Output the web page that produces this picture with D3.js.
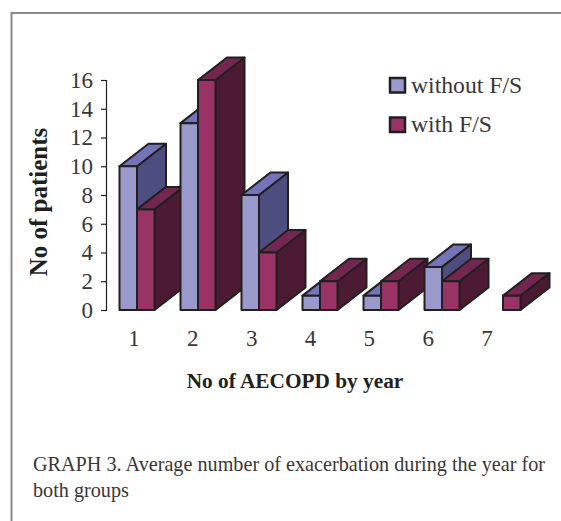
<!DOCTYPE html>
<html>
<head>
<meta charset="utf-8">
<script src="https://cdn.jsdelivr.net/npm/d3@7"></script>
<style>
    html, body { margin: 0; padding: 0; background: #fff; }
    svg { display: block; }
    text { font-family: "Liberation Serif", serif; fill: #3a3637; }
    .axisTitle { font-weight: bold; fill: #231f20; }
</style>
</head>
<body>
<div id="chart"></div>
<script>
// data
const categories = ['1', '2', '3', '4', '5', '6', '7'];
const seriesNames = ['without F/S', 'with F/S'];
const withoutFS = [10, 13, 8, 1, 1, 3, 0];
const withFS = [7, 16, 4, 2, 2, 2, 1];
const yTicks = [0, 2, 4, 6, 8, 10, 12, 14, 16];
const captionLines = [
    'GRAPH 3. Average number of exacerbation during the year for',
    'both groups'
];

const width = 561, height = 521;
const depthX = 29, depthY = 22.5; // fake 3d offset
const outline = '#231f20';
const faces = [
    { front: '#9999cc', top: '#7474b8', side: '#4d4d80' },
    { front: '#993366', top: '#73264f', side: '#4d1a33' }
];

const svg = d3.select('#chart').append('svg')
    .attr('width', width)
    .attr('height', height);

// page frame
svg.append('path')
    .attr('d', d3.line()([[11.5, height], [11.5, 13], [width, 13]]))
    .attr('fill', 'none')
    .attr('stroke', '#8a8a8a')
    .attr('stroke-width', 2);

// scales
const x = d3.scaleBand().domain(categories).range([119.5, 520.5]).paddingInner(26 / 61);
const xSeries = d3.scaleBand().domain(seriesNames).range([0, x.bandwidth()]);
const xLabels = d3.scalePoint().domain(categories).range([134, 487]);
const y = d3.scaleLinear().domain([0, 16]).range([310, 80]);

// y axis
const yAxis = svg.append('g')
    .attr('transform', 'translate(106,0)')
    .call(d3.axisLeft(y).tickValues(yTicks).tickSize(5).tickPadding(8).tickFormat(d3.format('d')));
yAxis.selectAll('path, line').attr('stroke', outline).attr('stroke-width', 1.2);
yAxis.selectAll('text').attr('font-size', 23).style('font-family', '"Liberation Serif", serif').attr('fill', '#3a3637');

// x labels, they do not line up with the bars in the original
svg.append('g').selectAll('text')
    .data(categories)
    .join('text')
    .attr('x', d => xLabels(d))
    .attr('y', 346)
    .attr('text-anchor', 'middle')
    .attr('font-size', 23)
    .text(d => d);

// bars, left to right so later ones cover the earlier sides
const rows = categories.flatMap((c, i) => [
    { cat: c, name: seriesNames[0], value: withoutFS[i], face: faces[0] },
    { cat: c, name: seriesNames[1], value: withFS[i], face: faces[1] }
]).filter(d => d.value > 0);

const bars = svg.append('g').selectAll('g')
    .data(rows)
    .join('g')
    .attr('stroke', outline)
    .attr('stroke-width', 2)
    .attr('stroke-linejoin', 'round');

const left = d => x(d.cat) + xSeries(d.name);
const right = d => left(d) + xSeries.bandwidth();

bars.append('path') // side
    .attr('fill', d => d.face.side)
    .attr('d', d => d3.line()([
        [right(d), y(0)], [right(d) + depthX, y(0) - depthY],
        [right(d) + depthX, y(d.value) - depthY], [right(d), y(d.value)]
    ]) + 'Z');

bars.append('path') // top
    .attr('fill', d => d.face.top)
    .attr('d', d => d3.line()([
        [left(d), y(d.value)], [left(d) + depthX, y(d.value) - depthY],
        [right(d) + depthX, y(d.value) - depthY], [right(d), y(d.value)]
    ]) + 'Z');

bars.append('rect') // front
    .attr('fill', d => d.face.front)
    .attr('x', left)
    .attr('y', d => y(d.value))
    .attr('width', xSeries.bandwidth())
    .attr('height', d => y(0) - y(d.value));

// legend
const legend = svg.append('g').selectAll('g')
    .data(seriesNames)
    .join('g')
    .attr('transform', (d, i) => `translate(390,${78 + i * 39.5})`);
legend.append('rect')
    .attr('width', 15)
    .attr('height', 14.5)
    .attr('fill', (d, i) => faces[i].front)
    .attr('stroke', outline)
    .attr('stroke-width', 2.5);
legend.append('text')
    .attr('x', 21)
    .attr('y', 14.5)
    .attr('font-size', 23.7)
    .text(d => d);

// axis titles
svg.append('text').classed('axisTitle', true)
    .attr('transform', 'translate(47,202)rotate(-90)')
    .attr('text-anchor', 'middle')
    .attr('font-size', 25)
    .text('No of patients');
svg.append('text').classed('axisTitle', true)
    .attr('x', 295)
    .attr('y', 388)
    .attr('text-anchor', 'middle')
    .attr('font-size', 21.3)
    .text('No of AECOPD by year');

// caption
svg.append('g').selectAll('text')
    .data(captionLines)
    .join('text')
    .attr('x', 33)
    .attr('y', (d, i) => 471 + i * 26)
    .attr('font-size', 20.2)
    .text(d => d);
</script>
</body>
</html>
